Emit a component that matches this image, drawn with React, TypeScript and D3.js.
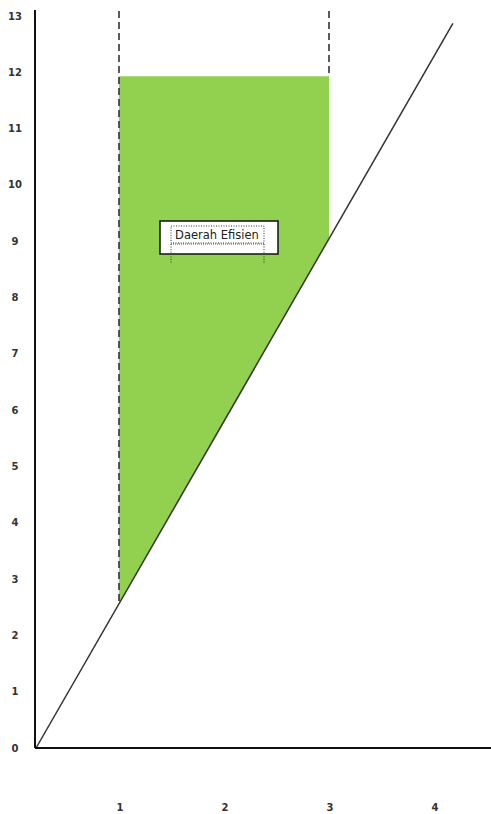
import React from "react";
import * as d3 from "d3";

const xTicks = [1, 2, 3, 4];
const yTicks = [0, 1, 2, 3, 4, 5, 6, 7, 8, 9, 10, 11, 12, 13];
const linePoints: [number, number][] = [
  [0.21, 0],
  [4.18, 12.87],
];
const regionX = [1, 3];
const regionTop = 11.93;
const dashX = [1, 3];
const labelText = "Daerah Efisien";

export default function App() {
  const W = 491;
  const H = 814;
  const x = d3.scaleLinear().domain([0, 4]).range([14, 434]);
  const y = d3.scaleLinear().domain([0, 13]).range([748, 16]);
  const lineY = (xv: number) => {
    const [[x0, y0], [x1, y1]] = linePoints;
    return y0 + ((xv - x0) * (y1 - y0)) / (x1 - x0);
  };
  const line = d3
    .line<[number, number]>()
    .x((d) => x(d[0]))
    .y((d) => y(d[1]));
  const region: [number, number][] = [
    [regionX[0], regionTop],
    [regionX[1], regionTop],
    [regionX[1], lineY(regionX[1])],
    [regionX[0], lineY(regionX[0])],
  ];
  const axisLeft = 35;
  const font = "Tahoma, 'DejaVu Sans', sans-serif";
  return (
    <svg
      width={W}
      height={H}
      style={{ position: "absolute", left: 0, top: 0, background: "#fff" }}
    >
      <path d={line(region) + "Z"} fill="#92d050" />
      {dashX.map((d) => (
        <line
          key={d}
          x1={x(d)}
          x2={x(d)}
          y1={11}
          y2={y(d === dashX[0] ? lineY(d) : regionTop)}
          stroke="#333"
          strokeWidth={1.6}
          strokeDasharray="7,4"
        />
      ))}
      <path d={line(linePoints) || ""} stroke="#333" strokeWidth={1.5} fill="none" />
      <line x1={axisLeft} x2={axisLeft} y1={10} y2={y(0)} stroke="#111" strokeWidth={2} />
      <line x1={axisLeft} x2={W} y1={y(0)} y2={y(0)} stroke="#111" strokeWidth={2} />
      {yTicks.map((t) => (
        <text
          key={t}
          x={15}
          y={y(t)}
          dy="0.35em"
          textAnchor="middle"
          fontFamily={font}
          fontSize={10}
          fontWeight="bold"
          fill="#333"
        >
          {t}
        </text>
      ))}
      {xTicks.map((t) => (
        <text
          key={t}
          x={x(t) + 1}
          y={807}
          dy="0.35em"
          textAnchor="middle"
          fontFamily={font}
          fontSize={10}
          fontWeight="bold"
          fill="#333"
        >
          {t}
        </text>
      ))}
      <g>
        <rect x={160} y={221} width={118} height={33} fill="#fff" stroke="#111" strokeWidth={1.5} />
        <rect
          x={171}
          y={226}
          width={93}
          height={17}
          fill="none"
          stroke="#333"
          strokeWidth={1}
          strokeDasharray="1,1.5"
        />
        <line x1={171} x2={264} y1={244} y2={244} stroke="#555" strokeWidth={1} strokeDasharray="1,1" />
        <line x1={171} x2={171} y1={244} y2={264} stroke="#333" strokeWidth={1} strokeDasharray="1,1.5" />
        <line x1={264} x2={264} y1={244} y2={264} stroke="#333" strokeWidth={1} strokeDasharray="1,1.5" />
        <text
          x={217}
          y={235}
          dy="0.35em"
          textAnchor="middle"
          fontFamily={font}
          fontSize={11.5}
          fill="#222"
        >
          {labelText}
        </text>
      </g>
    </svg>
  );
}
